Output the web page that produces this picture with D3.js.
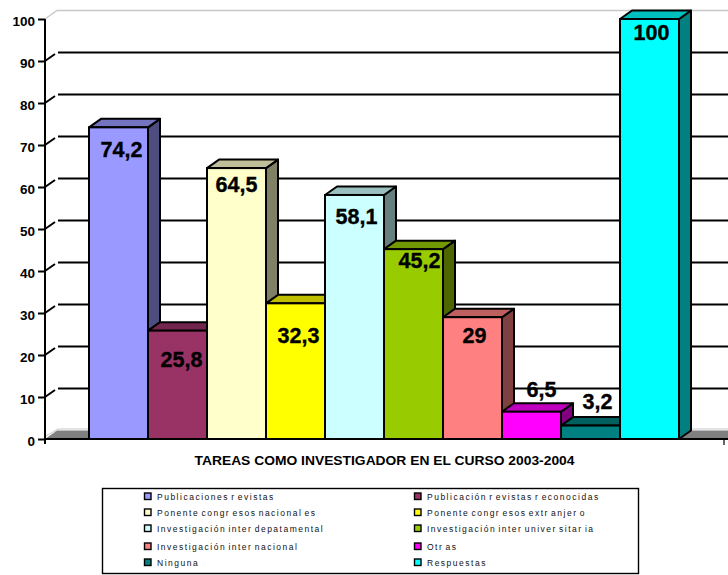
<!DOCTYPE html>
<html><head><meta charset="utf-8">
<style>html,body{margin:0;padding:0;background:#fff}svg{display:block}text{font-family:"Liberation Sans",Arial,sans-serif}</style>
<script src="https://d3js.org/d3.v7.min.js"></script></head><body>
<svg id="c" width="728" height="575"></svg>
<script>
const categories=["Publicaciones revistas","Publicación revistas reconocidas","Ponente congresos nacionales","Ponente congresos extranjero","Investigación inter depatamental","Investigación inter universitaria","Investigación internacional","Otras","Ninguna","Respuestas"];
const legendLabels=["Publicaciones r evistas","Publicación r evistas r econocidas","Ponente congr esos nacional es","Ponente congr esos extr anjer o","Investigación inter depatamental","Investigación inter univer sitar ia","Investigación inter nacional","Otr as","Ninguna","Respuestas"];
const values=[74.2,25.8,64.5,32.3,58.1,45.2,29,6.5,3.2,100];
const valueLabels=["74,2","25,8","64,5","32,3","58,1","45,2","29","6,5","3,2","100"];
const colors=["#9999FF","#993366","#FFFFCC","#FFFF00","#CCFFFF","#99CC00","#FF8080","#FF00FF","#008080","#00FFFF"];
const yTicks=[0,10,20,30,40,50,60,70,80,90,100];
const title="TAREAS COMO INVESTIGADOR EN EL CURSO 2003-2004";

const svg=d3.select("#c");
const W=728,dx=12,dy=8.5,axisX=45,lw=2;
const y=d3.scaleLinear().domain([0,100]).range([439,19]);
const x=d3.scaleBand().domain(categories).range([89,679]).paddingInner(0).paddingOuter(0);
const y0=y(0);

// back wall and floor
svg.append("path").attr("d",`M${axisX},${y(100)}L${axisX+dx},${y(100)-dy}H${W}`).attr("fill","none").attr("stroke","#c8c8c8").attr("stroke-width",1.4);
svg.append("path").attr("d",`M${axisX},${y0}L${axisX+dx},${y0-dy}H${W}V${y0}Z`).attr("fill","#808080");
svg.append("path").attr("d",`M${axisX+1},${y0-3}L${axisX+dx+1},${y0-dy-1.5}H${W}`).attr("fill","none").attr("stroke","#c8c8c8").attr("stroke-width",1);

// gridlines + diagonals
const gridVals=yTicks.filter(v=>v>0&&v<100);
svg.append("g").selectAll("line").data(gridVals).join("line")
  .attr("x1",axisX+13).attr("x2",W).attr("y1",d=>y(d)-dy).attr("y2",d=>y(d)-dy)
  .attr("stroke","#000").attr("stroke-width",lw);
svg.append("g").selectAll("line").data(gridVals).join("line")
  .attr("x1",axisX).attr("x2",axisX+10).attr("y1",d=>y(d)).attr("y2",d=>y(d)-7)
  .attr("stroke","#000").attr("stroke-width",lw);

// bars
const bars=svg.append("g").selectAll("g").data(values.map((v,i)=>({v,i,c:categories[i],col:colors[i]}))).join("g");
const bw=x.bandwidth();
const shade=(c,k)=>{const r=d3.rgb(c);return d3.rgb(r.r*k,r.g*k,r.b*k).formatHex();};
bars.append("path").attr("d",d=>{const X=x(d.c)+bw,T=y(d.v);return `M${X},${T}L${X+dx},${T-dy}V${y0-dy}L${X},${y0}Z`;})
  .attr("fill",d=>shade(d.col,.5)).attr("stroke","#000").attr("stroke-width",lw).attr("stroke-linejoin","round");
bars.append("path").attr("d",d=>{const X=x(d.c),T=y(d.v);return `M${X},${T}L${X+dx},${T-dy}H${X+bw+dx}L${X+bw},${T}Z`;})
  .attr("fill",d=>shade(d.col,.75)).attr("stroke","#000").attr("stroke-width",lw).attr("stroke-linejoin","round");
bars.append("rect").attr("x",d=>x(d.c)).attr("width",bw).attr("y",d=>y(d.v)).attr("height",d=>y0-y(d.v))
  .attr("fill",d=>d.col).attr("stroke","#000").attr("stroke-width",lw);

// data labels: offsets from the bar top as placed in the reference
const labelDx=[3,4,0,3,2,6,2,10,7,2];
const labelDy=[30,36,24,40,29,19,26,-15,-17,21];
svg.append("g").selectAll("text").data(values).join("text")
  .attr("x",(d,i)=>x(categories[i])+bw/2+labelDx[i])
  .attr("y",(d,i)=>y(d)+labelDy[i])
  .attr("text-anchor","middle").attr("font-size",21.5).attr("font-weight","bold").attr("fill","#000")
  .attr("stroke","#000").attr("stroke-width",.35)
  .text((d,i)=>valueLabels[i]);

// y axis
const gy=svg.append("g").attr("transform",`translate(${axisX},0)`)
  .call(d3.axisLeft(y).tickValues(yTicks).tickSize(7).tickPadding(3).tickFormat(d3.format("d")));
gy.select(".domain").attr("stroke","#000").attr("stroke-width",lw).attr("d",`M0,${y(100)}V${y0+5}`);
gy.selectAll("line").attr("stroke","#000").attr("stroke-width",lw);
gy.selectAll("text").attr("font-size",13.5).attr("font-weight","bold").attr("font-family",'"Liberation Sans",Arial,sans-serif').attr("fill","#000").attr("dy","0.45em");

// x axis baseline
svg.append("path").attr("d",`M${axisX},${y0}H${W}`).attr("stroke","#000").attr("stroke-width",lw).attr("fill","none");
svg.append("path").attr("d",`M724,${y0+6}V${y0+1}Q724,${y0} 726,${y0}`).attr("stroke","#000").attr("stroke-width",1.2).attr("fill","none");

// title
svg.append("text").attr("x",384.5).attr("y",465).attr("text-anchor","middle").attr("font-size",12).attr("font-weight","bold").attr("textLength",380).attr("lengthAdjust","spacingAndGlyphs").text(title);

// legend
svg.append("rect").attr("x",102.5).attr("y",488.5).attr("width",536).attr("height",85).attr("fill","#fff").attr("stroke","#000").attr("stroke-width",1.4);
const rowY=[496.5,512.5,528.5,546.5,562.5];
const colSwatch=[144,414],colText=[157,427];
const lg=svg.append("g").selectAll("g").data(legendLabels).join("g")
  .attr("transform",(d,i)=>`translate(0,${rowY[Math.floor(i/2)]})`);
lg.append("rect").attr("x",(d,i)=>colSwatch[i%2]+.5).attr("y",-3.5).attr("width",6.5).attr("height",6.5)
  .attr("fill",(d,i)=>colors[i]).attr("stroke","#000").attr("stroke-width",1.4);
lg.append("text").attr("x",(d,i)=>colText[i%2]).attr("y",3.5).attr("font-size",8.5).attr("letter-spacing",1.5).attr("word-spacing",-1.6).attr("fill","#111").text(d=>d);
</script></body></html>
